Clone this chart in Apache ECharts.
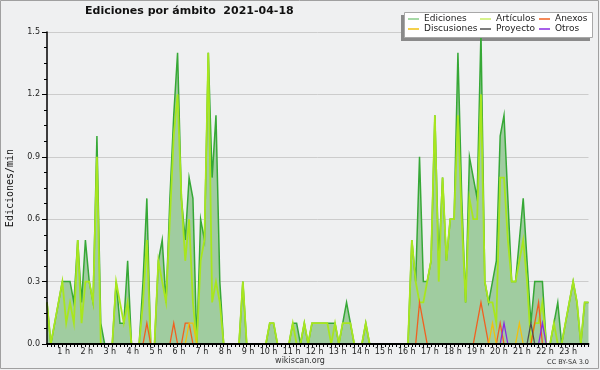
<!DOCTYPE html>
<html>
<head>
<meta charset="utf-8">
<script src="https://cdn.jsdelivr.net/npm/echarts@6/dist/echarts.min.js"></script>
<style>html,body{margin:0;padding:0;background:#eff0f1}#c{width:600px;height:370px}</style>
</head>
<body>
<div id="c"></div>
<script>
// 10-minute bins, 00:00 .. 23:30
const times = [];
for (let i = 0; i < 142; i++) {
  const h = Math.floor(i / 6), m = (i % 6) * 10;
  times.push((h < 10 ? '0' : '') + h + ':' + (m < 10 ? '0' : '') + m);
}
const hourLabels = ['1 h','2 h','3 h','4 h','5 h','6 h','7 h','8 h','9 h','10 h','11 h','12 h',
  '13 h','14 h','15 h','16 h','17 h','18 h','19 h','20 h','21 h','22 h','23 h'];
const yTicks = [0, 0.3, 0.6, 0.9, 1.2, 1.5];

const ediciones = [
  0.2,0,0.1,0.2,0.3,0.3,0.3,0.2,0.5,0.2,0.5,0.3,
  0.2,1.0,0.1,0,0,0,0.3,0.1,0.1,0.4,0,0,
  0,0.3,0.7,0,0,0.4,0.5,0.2,0.7,1.1,1.4,0.7,
  0.5,0.8,0.7,0,0.6,0.5,1.4,0.8,1.1,0.3,0,0,
  0,0,0,0.3,0,0,0,0,0,0,0.1,0.1,
  0,0,0,0,0.1,0.1,0,0.1,0,0.1,0.1,0.1,
  0.1,0.1,0.1,0.1,0,0.1,0.2,0.1,0,0,0,0.1,
  0,0,0,0,0,0,0,0,0,0,0,0.5,
  0.3,0.9,0.3,0.3,0.4,1.1,0.4,0.8,0.4,0.6,0.6,1.4,
  0.7,0.2,0.9,0.8,0.7,1.5,0.3,0.2,0.3,0.4,1.0,1.1,
  0.7,0.3,0.3,0.5,0.7,0.4,0.1,0.3,0.3,0.3,0,0,
  0.1,0.2,0,0.1,0.2,0.3,0.2,0,0.2,0.2
];
const articulos = [
  0.2,0,0.1,0.2,0.3,0.1,0.2,0.1,0.5,0.1,0.3,0.3,
  0.2,0.9,0,0,0,0,0.3,0.2,0.1,0.2,0,0,
  0,0.2,0.5,0,0,0.4,0.3,0.2,0.6,1.0,1.2,0.7,
  0.4,0.6,0.2,0,0.4,0.5,1.4,0.2,0.3,0.2,0,0,
  0,0,0,0.3,0,0,0,0,0,0,0.1,0.1,
  0,0,0,0,0.1,0,0,0.1,0,0.1,0.1,0.1,
  0.1,0.1,0,0.1,0,0.1,0.1,0.1,0,0,0,0.1,
  0,0,0,0,0,0,0,0,0,0,0,0.5,
  0.3,0.2,0.2,0.3,0.4,1.1,0.3,0.8,0.4,0.6,0.6,1.1,
  0.6,0.2,0.7,0.6,0.6,1.2,0.3,0.2,0.2,0.1,0.8,0.8,
  0.5,0.3,0.3,0.4,0.5,0.3,0,0.1,0.1,0.2,0,0,
  0.1,0,0,0.1,0.2,0.3,0.2,0,0.2,0.2
];
const anexos = [
  0,0,0,0,0,0,0,0,0,0,0,0,
  0,0,0,0,0,0,0,0,0,0,0,0,
  0,0,0.1,0,0,0,0,0,0,0.1,0,0,
  0.1,0.1,0,0,0,0,0,0,0,0,0,0,
  0,0,0,0,0,0,0,0,0,0,0,0,
  0,0,0,0,0,0,0,0,0,0,0,0,
  0,0,0,0,0,0,0,0,0,0,0,0,
  0,0,0,0,0,0,0,0,0,0,0,0,
  0,0.2,0.1,0,0,0,0,0,0,0,0,0,
  0,0,0,0,0.1,0.2,0.1,0,0,0,0.1,0,
  0,0,0,0,0,0,0,0.1,0.2,0,0,0,
  0,0,0,0,0,0,0,0,0,0
];
const discusiones = [
  0,0,0,0,0,0,0,0,0,0,0,0,
  0,0,0,0,0,0,0,0,0,0,0,0,
  0,0,0,0,0,0,0,0,0,0,0,0,
  0,0.1,0.1,0,0,0,0,0,0,0,0,0,
  0,0,0,0,0,0,0,0,0,0,0,0,
  0,0,0,0,0,0,0,0,0,0,0,0,
  0,0,0,0,0,0,0,0,0,0,0,0,
  0,0,0,0,0,0,0,0,0,0,0,0,
  0,0,0,0,0,0,0,0,0,0,0,0,
  0,0,0,0,0,0,0,0,0.1,0,0,0,
  0,0,0,0.1,0,0,0,0,0,0,0,0,
  0,0,0,0,0,0,0,0,0,0
];
const proyecto = [
  0,0,0,0,0,0,0,0,0,0,0,0,
  0,0,0,0,0,0,0,0,0,0,0,0,
  0,0,0,0,0,0,0,0,0,0,0,0,
  0,0,0,0,0,0,0,0,0,0,0,0,
  0,0,0,0,0,0,0,0,0,0,0,0,
  0,0,0,0,0,0,0,0,0,0,0,0,
  0,0,0,0,0,0,0,0,0,0,0,0,
  0,0,0,0,0,0,0,0,0,0,0,0,
  0,0,0,0,0,0,0,0,0,0,0,0,
  0,0,0,0,0,0,0,0,0,0,0,0,
  0,0,0,0,0,0,0.1,0,0,0,0,0,
  0,0,0,0,0,0,0,0,0,0
];
const otros = [
  0,0,0,0,0,0,0,0,0,0,0,0,
  0,0,0,0,0,0,0,0,0,0,0,0,
  0,0,0,0,0,0,0,0,0,0,0,0,
  0,0,0,0,0,0,0,0,0,0,0,0,
  0,0,0,0,0,0,0,0,0,0,0,0,
  0,0,0,0,0,0,0,0,0,0,0,0,
  0,0,0,0,0,0,0,0,0,0,0,0,
  0,0,0,0,0,0,0,0,0,0,0,0,
  0,0,0,0,0,0,0,0,0,0,0,0,
  0,0,0,0,0,0,0,0,0,0,0,0.1,
  0,0,0,0,0,0,0,0,0,0.1,0,0,
  0,0,0,0,0,0,0,0,0,0
];

const FONT = 'DejaVu Sans';
const chart = echarts.init(document.getElementById('c'), null, {renderer: 'canvas'});

function lineSeries(name, data, color, width, z) {
  return {
    name: name, type: 'line', data: data, symbol: 'none', showSymbol: false,
    lineStyle: {color: color, width: width, join: 'miter'},
    itemStyle: {color: color}, z: z, animation: false
  };
}

const legendCommon = {
  orient: 'vertical', top: 14, itemGap: 0, itemWidth: 11, itemHeight: 1.5,
  icon: 'rect', selectedMode: false, padding: 0,
  textStyle: {fontFamily: FONT, fontSize: 9, color: '#222', lineHeight: 10}
};

const option = {
  backgroundColor: '#eff0f1',
  animation: false,
  title: {
    text: 'Ediciones por ámbito  2021-04-18', left: 85, top: 6, padding: 0,
    textStyle: {fontFamily: FONT, fontWeight: 'bold', fontSize: 11, color: '#111'}
  },
  graphic: [
    {type: 'rect', shape: {x: 0.5, y: 0.5, width: 598, height: 368}, style: {fill: 'none', stroke: '#a0a0a0', lineWidth: 1}, z: 1},
    {type: 'rect', shape: {x: 401, y: 15, width: 189, height: 26}, style: {fill: '#8a8a8a'}, z: 2},
    {type: 'rect', shape: {x: 404.5, y: 12.5, width: 188, height: 25}, style: {fill: '#ffffff', stroke: '#a8a8a8', lineWidth: 1}, z: 3},
    {type: 'text', x: 10, y: 188, rotation: Math.PI / 2, z: 5,
      style: {text: 'Ediciones/min', fontFamily: 'DejaVu Sans Mono', fontSize: 10, fill: '#111', align: 'center', verticalAlign: 'middle'}},
    {type: 'text', x: 300, y: 361, z: 5,
      style: {text: 'wikiscan.org', fontFamily: FONT, fontSize: 8, fill: '#333', align: 'center', verticalAlign: 'middle'}},
    {type: 'text', x: 589, y: 362, z: 5,
      style: {text: 'CC BY-SA 3.0', fontFamily: FONT, fontSize: 6.5, fill: '#333', align: 'right', verticalAlign: 'middle'}}
  ],
  legend: [
    Object.assign({left: 408, data: [{name: 'Ediciones', itemStyle: {color: '#88cc88'}}, 'Discusiones']}, legendCommon),
    Object.assign({left: 480, data: [{name: 'Artículos', itemStyle: {color: '#c8ee66'}}, 'Proyecto']}, legendCommon),
    Object.assign({left: 539, data: ['Anexos', 'Otros']}, legendCommon)
  ],
  grid: {left: 47, right: 11.5, top: 32, bottom: 26},
  xAxis: {
    type: 'category', data: times, boundaryGap: false, z: 10,
    axisLine: {show: true, lineStyle: {color: '#000', width: 2}},
    axisTick: {show: true, interval: 0, length: 3, lineStyle: {color: '#000', width: 1}},
    axisLabel: {
      interval: function (index) { return index % 6 === 0 && index > 0; },
      formatter: function (val, index) { return hourLabels[index / 6 - 1] || ''; },
      align: 'right', margin: 4, fontFamily: FONT, fontSize: 8, color: '#222'
    },
    splitLine: {show: false}
  },
  yAxis: [
    {
      type: 'value', min: yTicks[0], max: yTicks[yTicks.length - 1], interval: 0.3, z: 10,
      axisLine: {show: true, lineStyle: {color: '#000', width: 1.5}},
      axisTick: {show: true, length: 5, lineStyle: {color: '#000'}},
      minorTick: {show: true, splitNumber: 4, length: 3, lineStyle: {color: '#000'}},
      axisLabel: {margin: 7, fontFamily: FONT, fontSize: 8, color: '#222', formatter: function (v) { return v.toFixed(1); }},
      splitLine: {show: false}
    },
    {
      type: 'value', min: yTicks[0], max: yTicks[yTicks.length - 1], interval: 0.3,
      axisLine: {show: false}, axisTick: {show: false}, axisLabel: {show: false},
      splitLine: {show: true, lineStyle: {color: '#cccccc', width: 1}}
    }
  ],
  series: [
    Object.assign(lineSeries('Ediciones', ediciones, '#36a836', 1.5, 2), {areaStyle: {color: '#a0cca0', opacity: 1}}),
    lineSeries('Artículos', articulos, '#a8e61e', 1.8, 3),
    lineSeries('Anexos', anexos, '#f06020', 1.3, 4),
    lineSeries('Discusiones', discusiones, '#f0c010', 1.3, 4),
    lineSeries('Proyecto', proyecto, '#505050', 1.3, 4),
    lineSeries('Otros', otros, '#8a2be2', 1.3, 4)
  ]
};
chart.setOption(option);
</script>
</body>
</html>
